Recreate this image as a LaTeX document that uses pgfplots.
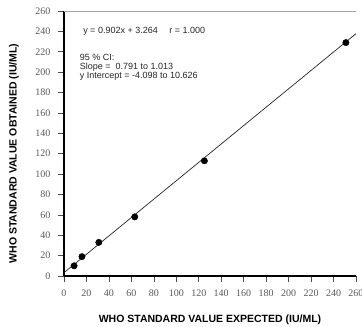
\documentclass[border=0pt]{standalone}
\usepackage{pgfplots}
\pgfplotsset{compat=1.18}
\usepackage{fontspec}
\setmainfont{Liberation Serif}
\newfontfamily\arial{Liberation Sans}
\begin{document}
\begin{tikzpicture}
\useasboundingbox (-64pt,-51pt) rectangle (298pt,276pt);
\begin{axis}[
  at={(0,0)}, anchor=south west,
  scale only axis,
  width=292pt, height=265pt,
  xmin=0, xmax=260, ymin=0, ymax=260,
  xtick={0,20,...,260}, ytick={0,20,...,260},
  axis x line*=bottom, axis y line*=left,
  tick pos=left,
  tick align=outside,
  major tick length=6pt,
  every tick/.style={black!70, line width=0.6pt},
  axis line style={black, line width=1.3pt},
  /pgf/number format/assume math mode=true,
  tick label style={font=\rmfamily\fontsize{10}{12}\selectfont, text=black!65},
  xticklabel style={yshift=-4pt},
  yticklabel style={xshift=-4pt},
  xlabel={WHO STANDARD VALUE EXPECTED (IU/ML)},
  ylabel={WHO STANDARD VALUE OBTAINED (IU/ML)},
  xlabel style={at={(axis description cs:0.5,0)}, anchor=center, yshift=-44pt, font=\arial\bfseries\fontsize{10.5}{12}\selectfont},
  ylabel style={at={(axis description cs:0,0.5)}, anchor=center, yshift=50pt, xshift=-10pt, font=\arial\bfseries\fontsize{10.5}{12}\selectfont},
]
\addplot[black!85, line width=0.7pt] coordinates {(0,3.264) (260,237.784)};
\addplot[only marks, mark=*, mark size=3.2pt, black] coordinates {
  (9,10) (16,19) (31,33) (63,58) (125,113) (251,229)};
\draw[gray!70, line width=0.8pt] (rel axis cs:0,1) -- (rel axis cs:1,1) -- (rel axis cs:1,0);
\node[anchor=base west, font=\arial\fontsize{9}{9}\selectfont, text=black!85] at (axis cs:14,238) {y = 0.902x + 3.264 \quad r = 1.000};
\node[anchor=north west, align=left, font=\arial\fontsize{9}{9}\selectfont, text=black!85, inner sep=0pt] at (axis cs:14,218) {95 \% CI:\\Slope = \ 0.791 to 1.013\\y Intercept = -4.098 to 10.626};
\end{axis}
\end{tikzpicture}
\end{document}
